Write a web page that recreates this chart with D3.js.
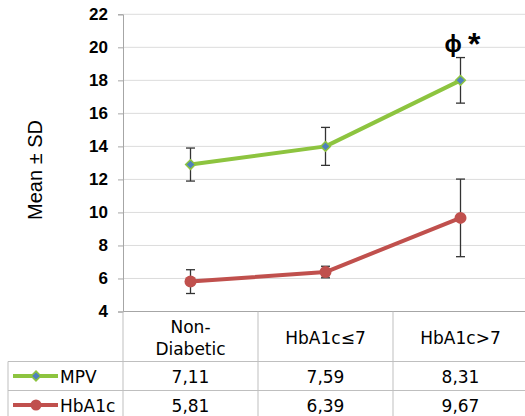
<!DOCTYPE html>
<html><head><meta charset="utf-8">
<script src="https://cdn.jsdelivr.net/npm/d3@7"></script>
<style>html,body{margin:0;padding:0;background:#fff;overflow:hidden}</style>
</head><body>
<script>
const categories = ["Non-Diabetic", "HbA1c≤7", "HbA1c>7"];
const categoryLines = [["Non-", "Diabetic"], ["HbA1c≤7"], ["HbA1c>7"]];
const seriesNames = ["MPV", "HbA1c"];
const mpvMean = [12.9, 14.0, 18.0];
const mpvSD = [1.0, 1.15, 1.38];
const hba1cMean = [5.81, 6.39, 9.67];
const hba1cSD = [0.72, 0.35, 2.35];
const tableMPV = ["7,11", "7,59", "8,31"];
const tableHbA1c = ["5,81", "6,39", "9,67"];
const yTicks = [4, 6, 8, 10, 12, 14, 16, 18, 20, 22];
const annotationParts = ["ϕ", "*"];

const W = 525, H = 416;
const mLeft = 123, mRight = 528, mTop = 14.3, mBottom = 311.5;
const rowH = [50, 29, 29];
const svg = d3.select("body").append("svg").attr("width", W).attr("height", H);

const x = d3.scaleBand().domain(categories).range([mLeft, mRight]);
const y = d3.scaleLinear().domain([4, 22]).range([mBottom, mTop]);

// gridlines
svg.append("g").selectAll("line").data(yTicks.slice(1)).join("line")
  .attr("x1", mLeft).attr("x2", mRight)
  .attr("y1", d => y(d)).attr("y2", d => y(d))
  .attr("stroke", "#dcdcdc").attr("stroke-width", 1);

// y axis
const yAxis = svg.append("g").attr("transform", `translate(${mLeft},0)`)
  .call(d3.axisLeft(y).tickValues(yTicks).tickSize(5).tickPadding(10));
yAxis.select(".domain").attr("stroke", "#a6a6a6");
yAxis.selectAll(".tick line").attr("stroke", "#a6a6a6");
yAxis.selectAll(".tick text").attr("font-family", "Liberation Sans, Arial, sans-serif")
  .attr("font-size", 17).attr("font-weight", "bold").attr("fill", "#000");

// y title
svg.append("text").attr("transform", `translate(42,170) rotate(-90)`)
  .attr("text-anchor", "middle").attr("font-family", "Liberation Sans, Arial, sans-serif")
  .attr("font-size", 20).attr("fill", "#000").text("Mean ± SD");

// table
const tableColor = "#bfbfbf";
const tb = svg.append("g");
const r0 = mBottom, r1 = r0 + rowH[0], r2 = r1 + rowH[1], r3 = r2 + rowH[2];
tb.append("line").attr("x1", mLeft).attr("x2", mRight).attr("y1", r0).attr("y2", r0).attr("stroke", "#a6a6a6");
[r1, r2, r3].forEach(yy => tb.append("line").attr("x1", 8).attr("x2", mRight).attr("y1", yy).attr("y2", yy).attr("stroke", tableColor));
tb.append("line").attr("x1", mLeft).attr("x2", mLeft).attr("y1", r0).attr("y2", r3 + 10).attr("stroke", tableColor);
categories.forEach(c => tb.append("line").attr("x1", x(c) + x.bandwidth()).attr("x2", x(c) + x.bandwidth())
  .attr("y1", r0).attr("y2", r3 + 10).attr("stroke", tableColor));
tb.append("line").attr("x1", 8).attr("x2", 8).attr("y1", r1).attr("y2", r3 + 10).attr("stroke", tableColor);

const tf = "DejaVu Sans, Verdana, sans-serif";
const tfs = 17;
categories.forEach((c, i) => {
  const lines = categoryLines[i];
  const cy = (r0 + r1) / 2 + 2;
  lines.forEach((ln, j) => {
    tb.append("text").attr("x", x(c) + x.bandwidth() / 2)
      .attr("y", cy + (j - (lines.length - 1) / 2) * 22)
      .attr("dy", "0.35em").attr("text-anchor", "middle")
      .attr("font-family", tf).attr("font-size", tfs).attr("fill", "#000").text(ln);
  });
  tb.append("text").attr("x", x(c) + x.bandwidth() / 2).attr("y", (r1 + r2) / 2 + 1)
    .attr("dy", "0.35em").attr("text-anchor", "middle")
    .attr("font-family", tf).attr("font-size", tfs).attr("fill", "#000").text(tableMPV[i]);
  tb.append("text").attr("x", x(c) + x.bandwidth() / 2).attr("y", (r2 + r3) / 2 + 1)
    .attr("dy", "0.35em").attr("text-anchor", "middle")
    .attr("font-family", tf).attr("font-size", tfs).attr("fill", "#000").text(tableHbA1c[i]);
});

const green = "#8dc43f", blue = "#4f81bd", red = "#c0504d";
const diamond = d3.symbol().type(d3.symbolDiamond2).size(60);

[[seriesNames[0], green, "diamond", (r1 + r2) / 2], [seriesNames[1], red, "circle", (r2 + r3) / 2]].forEach(([name, col, shp, cy]) => {
  tb.append("line").attr("x1", 13).attr("x2", 58).attr("y1", cy).attr("y2", cy)
    .attr("stroke", col).attr("stroke-width", 4);
  if (shp === "diamond") {
    tb.append("path").attr("d", diamond).attr("transform", `translate(36,${cy})`)
      .attr("fill", blue).attr("stroke", col).attr("stroke-width", 1.5);
  } else {
    tb.append("circle").attr("cx", 36).attr("cy", cy).attr("r", 5.5).attr("fill", col);
  }
  tb.append("text").attr("x", 60).attr("y", cy + 1).attr("dy", "0.35em")
    .attr("font-family", tf).attr("font-size", tfs).attr("fill", "#000").text(name);
});

const cx = c => x(c) + x.bandwidth() / 2;
const series = [
  {mean: mpvMean, sd: mpvSD, color: green, marker: "diamond"},
  {mean: hba1cMean, sd: hba1cSD, color: red, marker: "circle"}
];
const line = d3.line().x((d, i) => cx(categories[i])).y(d => y(d));
series.forEach(s => {
  svg.append("path").datum(s.mean).attr("d", line).attr("fill", "none")
    .attr("stroke", s.color).attr("stroke-width", 4).attr("stroke-linejoin", "round");
});
series.forEach(s => {
  const g = svg.append("g");
  s.mean.forEach((m, i) => {
    const xx = cx(categories[i]);
    g.append("line").attr("x1", xx).attr("x2", xx).attr("y1", y(m + s.sd[i])).attr("y2", y(m - s.sd[i]))
      .attr("stroke", "#333").attr("stroke-width", 1.3);
    [m + s.sd[i], m - s.sd[i]].forEach(v => g.append("line").attr("x1", xx - 4.5).attr("x2", xx + 4.5)
      .attr("y1", y(v)).attr("y2", y(v)).attr("stroke", "#333").attr("stroke-width", 1.3));
    if (s.marker === "diamond") {
      g.append("path").attr("d", diamond).attr("transform", `translate(${xx},${y(m)})`)
        .attr("fill", blue).attr("stroke", s.color).attr("stroke-width", 1.5);
    } else {
      g.append("circle").attr("cx", xx).attr("cy", y(m)).attr("r", 6).attr("fill", s.color);
    }
  });
});

const ann = svg.append("text").attr("x", cx(categories[2]) + 2).attr("y", y(mpvMean[2] + mpvSD[2]) - 6)
  .attr("text-anchor", "middle").attr("font-family", "Liberation Sans, Arial, sans-serif")
  .attr("font-weight", "bold").attr("fill", "#000");
ann.append("tspan").attr("font-size", 23).text(annotationParts[0] + " ");
ann.append("tspan").attr("font-size", 32).attr("dy", 3).text(annotationParts[1]);
</script>
</body></html>
